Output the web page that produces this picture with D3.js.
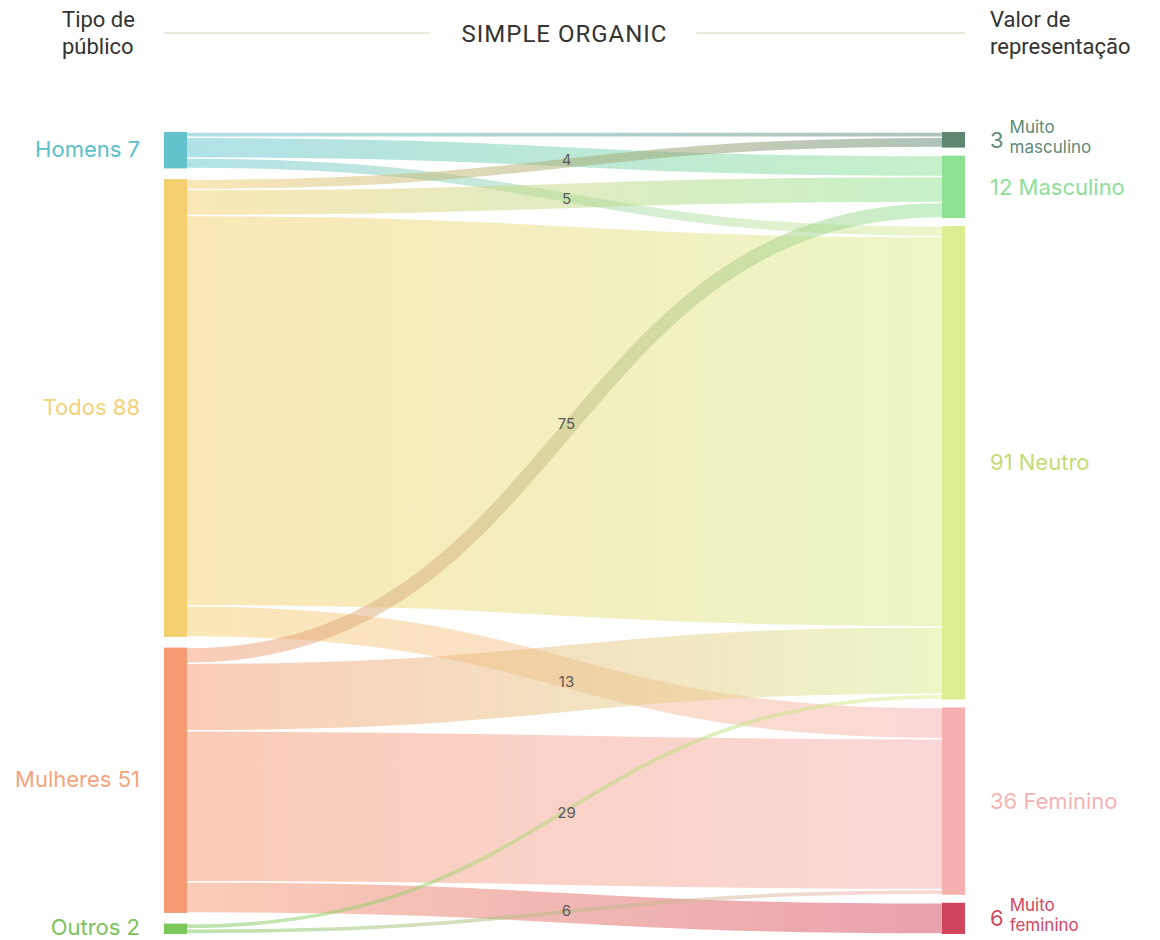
<!DOCTYPE html>
<html>
<head>
<meta charset="utf-8">
<script src="https://cdn.jsdelivr.net/npm/d3@7"></script>
<style>
  body { margin: 0; background: #fff; }
  svg { display: block; }
  .head { font-family: "Roboto", sans-serif; font-size: 22px; fill: #333; }
  .title { font-family: "Roboto", sans-serif; font-size: 24px; fill: #333; letter-spacing: 1px; }
  .node-label { font-family: "Inter", "Noto Sans", sans-serif; font-size: 22px; }
  .flow-label { font-family: "Inter", "Noto Sans", sans-serif; font-size: 15px; fill: #5a5a5a; }
</style>
</head>
<body>
<div id="chart"></div>
<script>
// data
var leftNames = ["Homens", "Todos", "Mulheres", "Outros"];
var leftColors = ["#62c3cd", "#f5d070", "#f59a72", "#7cc75a"];
var leftTextColors = ["#5bc0cb", "#f3d27a", "#f5a47a", "#7cc35c"];

var rightNames = ["Muito masculino", "Masculino", "Neutro", "Feminino", "Muito feminino"];
var rightColors = ["#5e8670", "#8ee192", "#daed90", "#f6b0b0", "#d2455e"];
var rightTextColors = ["#5e8b78", "#8ddf9a", "#c5dc76", "#f5b2b2", "#d4475f"];

var flowSources = ["Homens", "Homens", "Homens", "Todos", "Todos", "Todos", "Todos",
                   "Mulheres", "Mulheres", "Mulheres", "Mulheres", "Outros", "Outros"];
var flowTargets = ["Muito masculino", "Masculino", "Neutro", "Muito masculino", "Masculino", "Neutro", "Feminino",
                   "Masculino", "Neutro", "Feminino", "Muito feminino", "Neutro", "Feminino"];
var flowValues = [1, 4, 2, 2, 5, 75, 6, 3, 13, 29, 6, 1, 1];

var title = "SIMPLE ORGANIC";
var leftHeader = ["Tipo de", "público"];
var rightHeader = ["Valor de", "representação"];

// layout
var W = 1160, H = 940;
var top0 = 132, bottom0 = 934, minPad = 8, nodeW = 23;
var colX = d3.scaleOrdinal().domain(["left", "right"]).range([164, 942]);

var flows = flowValues.map(function(v, i) {
  return { source: flowSources[i], target: flowTargets[i], value: v };
});

function makeColumn(names, colors, textColors, side) {
  return names.map(function(n, i) {
    var key = side === "left" ? "source" : "target";
    return {
      name: n, side: side, index: i, color: colors[i], textColor: textColors[i],
      value: d3.sum(flows.filter(function(f) { return f[key] === n; }), function(f) { return f.value; })
    };
  });
}
var leftNodes = makeColumn(leftNames, leftColors, leftTextColors, "left");
var rightNodes = makeColumn(rightNames, rightColors, rightTextColors, "right");
var columns = [leftNodes, rightNodes];

var span = bottom0 - top0;
var ky = d3.min(columns, function(c) {
  return (span - (c.length - 1) * minPad) / d3.sum(c, function(n) { return n.value; });
});
var vScale = d3.scaleLinear().domain([0, 1]).range([0, ky]);

columns.forEach(function(c) {
  var total = d3.sum(c, function(n) { return n.value; });
  var pad = (span - vScale(total)) / (c.length - 1);
  var y = top0;
  c.forEach(function(n) {
    n.x0 = colX(n.side);
    n.x1 = n.x0 + nodeW;
    n.y0 = y;
    n.y1 = y + vScale(n.value);
    y = n.y1 + pad;
  });
});

var byName = {};
leftNodes.concat(rightNodes).forEach(function(n) { byName[n.name] = n; });

flows.forEach(function(f) {
  f.s = byName[f.source];
  f.t = byName[f.target];
  f.width = vScale(f.value);
});

// stack links at each end
leftNodes.forEach(function(n) {
  var y = n.y0;
  flows.filter(function(f) { return f.s === n; })
    .sort(function(a, b) { return a.t.index - b.t.index; })
    .forEach(function(f) { f.sy = y + f.width / 2; y += f.width; });
});
rightNodes.forEach(function(n) {
  var y = n.y0;
  flows.filter(function(f) { return f.t === n; })
    .sort(function(a, b) { return a.s.index - b.s.index; })
    .forEach(function(f) { f.ty = y + f.width / 2; y += f.width; });
});

var svg = d3.select("#chart").append("svg")
  .attr("width", W)
  .attr("height", H);

// header
var leftEnd = colX("left");
var rightEnd = colX("right") + nodeW;
var mid = (leftEnd + rightEnd) / 2;

svg.append("line")
  .attr("x1", leftEnd).attr("x2", mid - 135)
  .attr("y1", 33).attr("y2", 33)
  .attr("stroke", "#e6ead8").attr("stroke-width", 2);
svg.append("line")
  .attr("x1", mid + 132).attr("x2", rightEnd)
  .attr("y1", 33).attr("y2", 33)
  .attr("stroke", "#e6ead8").attr("stroke-width", 2);

svg.append("text")
  .attr("class", "title")
  .attr("x", mid).attr("y", 42)
  .attr("text-anchor", "middle")
  .text(title);

svg.append("text")
  .attr("class", "head")
  .selectAll("tspan").data(leftHeader).enter().append("tspan")
  .attr("x", 62).attr("y", function(d, i) { return 27 + i * 27; })
  .text(function(d) { return d; });

svg.append("text")
  .attr("class", "head")
  .selectAll("tspan").data(rightHeader).enter().append("tspan")
  .attr("x", 990).attr("y", function(d, i) { return 27 + i * 27; })
  .text(function(d) { return d; });

// gradients
var defs = svg.append("defs");
flows.forEach(function(f, i) {
  var g = defs.append("linearGradient")
    .attr("id", "grad" + i)
    .attr("gradientUnits", "userSpaceOnUse")
    .attr("x1", f.s.x1).attr("x2", f.t.x0)
    .attr("y1", 0).attr("y2", 0);
  g.append("stop").attr("offset", "0%").attr("stop-color", f.s.color);
  g.append("stop").attr("offset", "100%").attr("stop-color", f.t.color);
});

var link = d3.linkHorizontal()
  .source(function(d) { return [d.s.x1, d.sy]; })
  .target(function(d) { return [d.t.x0, d.ty]; });

svg.append("g")
  .attr("fill", "none")
  .selectAll("path")
  .data(flows)
  .enter().append("path")
  .attr("d", link)
  .attr("stroke", function(d, i) { return "url(#grad" + i + ")"; })
  .attr("stroke-opacity", 0.5)
  .attr("stroke-width", function(d) { return Math.max(1, d.width - 1.5); });

// nodes
var allNodes = leftNodes.concat(rightNodes);
svg.append("g")
  .selectAll("rect")
  .data(allNodes)
  .enter().append("rect")
  .attr("x", function(d) { return d.x0; })
  .attr("y", function(d) { return d.y0; })
  .attr("width", function(d) { return d.x1 - d.x0; })
  .attr("height", function(d) { return d.y1 - d.y0; })
  .attr("fill", function(d) { return d.color; });

// left labels
svg.append("g")
  .selectAll("text")
  .data(leftNodes)
  .enter().append("text")
  .attr("class", "node-label")
  .attr("x", function(d) { return d.x0 - 24; })
  .attr("y", function(d) { return (d.y0 + d.y1) / 2 - 1; })
  .attr("dy", "0.35em")
  .attr("text-anchor", "end")
  .attr("fill", function(d) { return d.textColor; })
  .text(function(d) { return d.name + " " + d.value; });

// right labels
rightNodes.forEach(function(d) {
  var cy = (d.y0 + d.y1) / 2;
  var lx = d.x1 + 25;
  if (d.name.indexOf("Muito ") === 0) {
    var num = svg.append("text")
      .attr("class", "node-label")
      .attr("x", lx).attr("y", cy).attr("dy", "0.35em")
      .attr("fill", d.textColor)
      .text(d.value);
    var nw = num.node().getComputedTextLength();
    var words = d.name.split(" ");
    svg.append("text")
      .attr("class", "node-label")
      .style("font-size", "17px")
      .attr("fill", d.textColor)
      .selectAll("tspan").data(words).enter().append("tspan")
      .attr("x", lx + nw + 6)
      .attr("y", function(w, i) { return cy - 7 + i * 20; })
      .text(function(w) { return w; });
  } else {
    svg.append("text")
      .attr("class", "node-label")
      .attr("x", lx).attr("y", cy).attr("dy", "0.35em")
      .attr("fill", d.textColor)
      .text(d.value + " " + d.name);
  }
});

// flow labels, bigger ones first, skip the ones that collide
var placed = [];
flows.filter(function(f) { return f.value >= 4; })
  .sort(function(a, b) { return b.value - a.value; })
  .forEach(function(f) {
    var y = (f.sy + f.ty) / 2 + 3;
    if (placed.some(function(p) { return Math.abs(p - y) < 16; })) return;
    placed.push(y);
    svg.append("text")
      .attr("class", "flow-label")
      .attr("x", (f.s.x1 + f.t.x0) / 2 + 2)
      .attr("y", y)
      .attr("dy", "0.35em")
      .attr("text-anchor", "middle")
      .text(f.value);
  });
</script>
</body>
</html>
